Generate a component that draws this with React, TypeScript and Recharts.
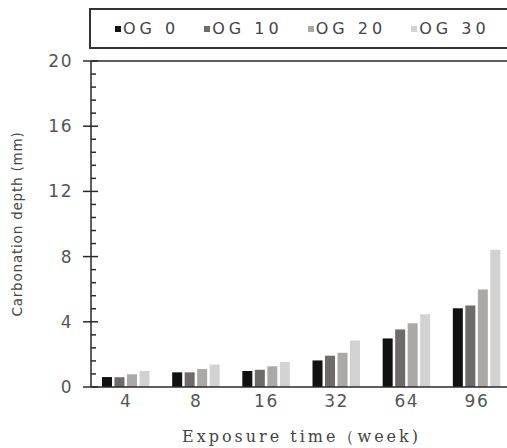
import { Bar, BarChart, Label, Legend, ReferenceLine, XAxis, YAxis } from "recharts";

const weeks = ["4", "8", "16", "32", "64", "96"];
const og0 = [0.61, 0.9, 0.98, 1.63, 2.98, 4.83];
const og10 = [0.6, 0.9, 1.06, 1.92, 3.53, 5.0];
const og20 = [0.78, 1.1, 1.27, 2.1, 3.91, 5.98];
const og30 = [0.98, 1.38, 1.53, 2.85, 4.46, 8.42];

const seriesKeys = ["og0", "og10", "og20", "og30"];
const seriesNames = ["OG 0", "OG 10", "OG 20", "OG 30"];
const seriesColors = ["#111111", "#6f6b6b", "#aba8a8", "#d2d2d2"];

const majorTicks = [0, 4, 8, 12, 16, 20];
const yTicks = [
  0, 0.8, 1.6, 2.4, 3.2, 4, 4.8, 5.6, 6.4, 7.2, 8, 8.8, 9.6, 10.4, 11.2, 12,
  12.8, 13.6, 14.4, 15.2, 16, 16.8, 17.6, 18.4, 19.2, 20,
];

const data = weeks.map((week, i) => ({
  week,
  og0: og0[i],
  og10: og10[i],
  og20: og20[i],
  og30: og30[i],
}));

const ink = "#2a2a2a";
const tickFont = { fontFamily: "DejaVu Sans", fontSize: 17, letterSpacing: 1.5 };

const Y_TICK_SIZE = 6;
const Y_TICK_MARGIN = 12;

function YTick(props: any) {
  const { x, y, payload } = props;
  const axisX = x + Y_TICK_SIZE + Y_TICK_MARGIN;
  const v = payload.value;
  const isMajor = majorTicks.some((m) => Math.abs(m - v) < 0.01);
  if (!isMajor) {
    return <line x1={axisX} x2={axisX + 5} y1={y} y2={y} stroke={ink} strokeWidth={1.5} />;
  }
  return (
    <g>
      <line x1={axisX - 8} x2={axisX + 7} y1={y} y2={y} stroke={ink} strokeWidth={1.5} />
      <text x={x} y={y} dy="0.35em" textAnchor="end" fill="#555" {...tickFont}>
        {v}
      </text>
    </g>
  );
}

function renderLegend() {
  return (
    <div
      style={{
        borderTop: "2px solid #333",
        borderBottom: "2px solid #333",
        borderLeft: "2px solid #333",
        width: 600,
        height: 41,
        boxSizing: "border-box",
        display: "flex",
        alignItems: "center",
        paddingLeft: 24,
        fontFamily: "DejaVu Sans",
        fontSize: 16,
        letterSpacing: 4,
        color: "#444",
        whiteSpace: "nowrap",
      }}
    >
      {seriesNames.map((name, i) => (
        <div key={name} style={{ display: "flex", alignItems: "center", marginRight: 25 }}>
          <span
            style={{
              width: 6,
              height: 6,
              background: seriesColors[i],
              marginRight: 2,
              display: "inline-block",
            }}
          />
          <span>{name}</span>
        </div>
      ))}
    </div>
  );
}

export default function App() {
  return (
    <div
      style={{
        position: "fixed",
        left: 0,
        top: 0,
        width: 507,
        height: 448,
        overflow: "hidden",
        background: "#fff",
      }}
    >
      <BarChart
        width={520}
        height={448}
        data={data}
        margin={{ top: 61, right: 8, bottom: 0, left: 0 }}
        barSize={10}
        barGap={2.5}
        barCategoryGap={22}
      >
        <XAxis
          dataKey="week"
          height={61}
          tickLine={false}
          tickSize={0}
          tickMargin={8}
          axisLine={{ stroke: ink, strokeWidth: 1.5 }}
          tick={{ fill: "#555", ...tickFont }}
        >
          <Label
            value="Exposure time（week)"
            position="insideBottom"
            offset={6}
            style={{ fontFamily: "DejaVu Serif", fontSize: 16, letterSpacing: 3, fill: "#444" }}
          />
        </XAxis>
        <YAxis
          width={91}
          domain={[0, 20]}
          ticks={yTicks}
          interval={0}
          tickLine={false}
          tickSize={Y_TICK_SIZE}
          tickMargin={Y_TICK_MARGIN}
          axisLine={{ stroke: ink, strokeWidth: 1.5 }}
          tick={<YTick />}
        >
          <Label
            content={(p: any) => {
              const vb = p.viewBox || { x: 0, y: 61, width: 91, height: 326 };
              const cx = vb.x + 17;
              const cy = vb.y + vb.height / 2;
              return (
                <text
                  x={cx}
                  y={cy}
                  transform={`rotate(-90 ${cx} ${cy})`}
                  textAnchor="middle"
                  dominantBaseline="central"
                  fill="#444"
                  fontFamily="DejaVu Sans"
                  fontSize={13.5}
                  letterSpacing={0.8}
                >
                  Carbonation depth (mm)
                </text>
              );
            }}
          />
        </YAxis>
        <ReferenceLine y={20} stroke={ink} strokeWidth={1.5} />
        <Legend
          layout="horizontal"
          verticalAlign="middle"
          align="center"
          content={renderLegend}
          wrapperStyle={{ top: 8, left: 89, width: 600, height: 41 }}
        />
        {seriesKeys.map((k, i) => (
          <Bar
            key={k}
            dataKey={k}
            name={seriesNames[i]}
            fill={seriesColors[i]}
            isAnimationActive={false}
          />
        ))}
      </BarChart>
    </div>
  );
}
